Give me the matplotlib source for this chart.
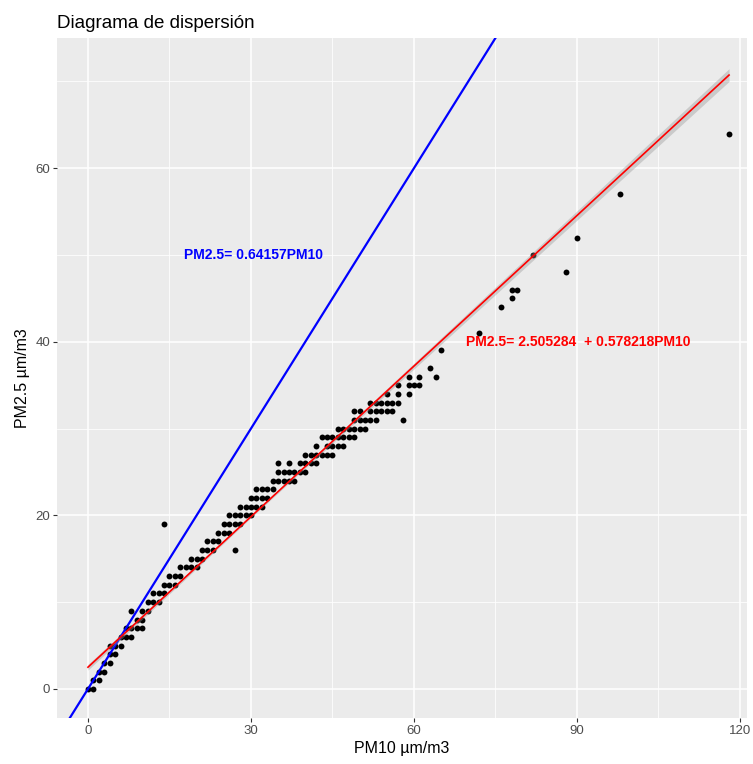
import numpy as np
import matplotlib
matplotlib.use("Agg")
import matplotlib.pyplot as plt
from matplotlib.ticker import MultipleLocator

plt.rcParams['font.family'] = ['Liberation Sans', 'DejaVu Sans']

# scatter data: PM2.5 value -> list of PM10 values
rows = {
    0: [0, 1], 1: [1, 2], 2: [2, 3], 3: [3, 4], 4: [4, 5],
    5: [4, 5, 6], 6: [6, 7, 8], 7: [7, 8, 9, 10], 8: [9, 10],
    9: [8, 10, 11], 10: [11, 12, 13], 11: [12, 13, 14],
    12: [14, 15, 16], 13: [15, 16, 17], 14: [17, 18, 19, 20],
    15: [19, 20, 21], 16: [21, 22, 23, 27], 17: [22, 23, 24],
    18: [24, 25, 26], 19: [14, 25, 26, 27, 28], 20: [26, 27, 28, 29, 30],
    21: [28, 29, 30, 31, 32], 22: [30, 31, 32, 33], 23: [31, 32, 33, 34],
    24: [34, 35, 36, 37, 38], 25: [35, 36, 37, 38, 39, 40],
    26: [35, 37, 39, 40, 41, 42], 27: [40, 41, 42, 43, 44, 45],
    28: [42, 44, 45, 46, 47], 29: [43, 44, 45, 46, 47, 48, 49],
    30: [46, 47, 48, 49, 50, 51], 31: [49, 50, 51, 52, 53, 58],
    32: [49, 50, 52, 53, 54, 55, 56], 33: [52, 53, 54, 55, 56, 57],
    34: [55, 57, 59], 35: [57, 59, 60, 61], 36: [59, 61, 64],
    37: [63], 39: [65], 41: [72], 44: [76], 45: [78], 46: [78, 79],
    48: [88], 50: [82], 52: [90], 57: [98], 64: [118],
}
pm10 = np.array([x for y, xs in rows.items() for x in xs], dtype=float)
pm25 = np.array([y for y, xs in rows.items() for x in xs], dtype=float)

# fitted lines
fit_intercept = 2.505284
fit_slope = 0.578218
ref_slope = 1.0
blue_label = "PM2.5= 0.64157PM10"
red_label = "PM2.5= 2.505284  + 0.578218PM10"

fig = plt.figure(figsize=(7.53, 7.64), dpi=100)
ax = fig.add_axes([0.0757, 0.0602, 0.9163, 0.8900])
ax.set_facecolor('#EBEBEB')
for s in ax.spines.values():
    s.set_visible(False)

ax.set_xlim(-5.7, 121.3)
ax.set_ylim(-3.35, 75.0)
ax.xaxis.set_major_locator(MultipleLocator(30))
ax.xaxis.set_minor_locator(MultipleLocator(15))
ax.yaxis.set_major_locator(MultipleLocator(20))
ax.yaxis.set_minor_locator(MultipleLocator(10))
ax.grid(which='major', color='white', linewidth=1.1)
ax.grid(which='minor', color='white', linewidth=0.55)
ax.set_axisbelow(True)
ax.tick_params(which='major', length=3, width=0.8, color='#333333',
               labelcolor='#4D4D4D', labelsize=9.5, pad=2)
ax.tick_params(which='minor', length=0)

ax.scatter(pm10, pm25, s=18, color='black', linewidths=0, zorder=3)

# reference line through origin
xl = np.array([-10, 130])
ax.plot(xl, ref_slope * xl, color='blue', linewidth=1.6, zorder=4)

# linear fit with a narrow confidence band (the original has many overlapping points)
xs = np.linspace(pm10.min(), pm10.max(), 200)
ys = fit_intercept + fit_slope * xs
band = 0.12 + 0.007 * np.abs(xs - 30)
ax.fill_between(xs, ys - band, ys + band, color='#999999', alpha=0.4, linewidth=0, zorder=4)
ax.plot(xs, ys, color='red', linewidth=1.2, zorder=5)

ax.text(30.4, 50, blue_label, color='blue', fontsize=10, fontweight='bold',
        ha='center', va='center', zorder=6)
ax.text(90.3, 40, red_label, color='red', fontsize=10, fontweight='bold',
        ha='center', va='center', zorder=6)

ax.set_xlabel("PM10 µm/m3", fontsize=11.5, labelpad=3)
ax.set_ylabel("PM2.5 µm/m3", fontsize=11.5, labelpad=4)
ax.set_title("Diagrama de dispersión", fontsize=13.5, loc='left', x=0.0, pad=7)

fig.savefig("out.png", dpi=100)
